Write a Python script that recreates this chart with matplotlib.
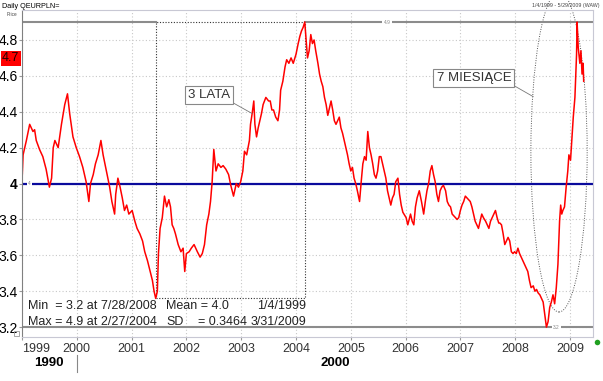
import matplotlib
matplotlib.use('Agg')
import matplotlib.pyplot as plt
from matplotlib.patches import Ellipse, Rectangle
from matplotlib.lines import Line2D
import numpy as np

# Data (decimal year, EUR/PLN close)
dates = [
    1999.00, 1999.02, 1999.08, 1999.14, 1999.20, 1999.23, 1999.26, 1999.32, 1999.38, 1999.44,
    1999.50, 1999.54, 1999.57, 1999.60, 1999.66, 1999.72, 1999.78, 1999.83, 1999.87, 1999.93,
    1999.99, 2000.05, 2000.11, 2000.17, 2000.22, 2000.25, 2000.30, 2000.34, 2000.39, 2000.44,
    2000.48, 2000.54, 2000.60, 2000.64, 2000.69, 2000.71, 2000.75, 2000.79, 2000.83, 2000.87,
    2000.91, 2000.95, 2001.01, 2001.06, 2001.10, 2001.15, 2001.20, 2001.24, 2001.29, 2001.34,
    2001.38, 2001.41, 2001.44, 2001.47, 2001.49, 2001.52, 2001.56, 2001.60, 2001.64, 2001.68,
    2001.71, 2001.74, 2001.77, 2001.80, 2001.85, 2001.90, 2001.94, 2001.97, 2002.00, 2002.05,
    2002.09, 2002.14, 2002.20, 2002.25, 2002.29, 2002.33, 2002.37, 2002.41, 2002.44, 2002.47,
    2002.50, 2002.54, 2002.58, 2002.63, 2002.67, 2002.72, 2002.77, 2002.81, 2002.86, 2002.91,
    2002.95, 2002.99, 2003.03, 2003.06, 2003.10, 2003.15, 2003.17, 2003.20, 2003.23, 2003.25,
    2003.28, 2003.31, 2003.34, 2003.37, 2003.40, 2003.45, 2003.50, 2003.53, 2003.56, 2003.59,
    2003.63, 2003.67, 2003.70, 2003.72, 2003.76, 2003.80, 2003.83, 2003.87, 2003.91, 2003.95,
    2004.00, 2004.04, 2004.07, 2004.10, 2004.13, 2004.16, 2004.19, 2004.21, 2004.24, 2004.27,
    2004.30, 2004.33, 2004.36, 2004.40, 2004.43, 2004.46, 2004.49, 2004.52, 2004.55, 2004.58,
    2004.61, 2004.64, 2004.67, 2004.70, 2004.73, 2004.76, 2004.79, 2004.82, 2004.85, 2004.88,
    2004.91, 2004.94, 2004.97, 2005.00, 2005.03, 2005.06, 2005.09, 2005.12, 2005.16, 2005.19,
    2005.22, 2005.25, 2005.28, 2005.31, 2005.34, 2005.37, 2005.40, 2005.43, 2005.46, 2005.49,
    2005.52, 2005.55, 2005.58, 2005.61, 2005.64, 2005.67, 2005.70, 2005.73, 2005.76, 2005.79,
    2005.82, 2005.86, 2005.89, 2005.92, 2005.95, 2006.01, 2006.04, 2006.09, 2006.12, 2006.15,
    2006.18, 2006.21, 2006.25, 2006.29, 2006.33, 2006.36, 2006.39, 2006.42, 2006.45, 2006.48,
    2006.51, 2006.54, 2006.57, 2006.60, 2006.63, 2006.66, 2006.69, 2006.73, 2006.76, 2006.79,
    2006.82, 2006.85, 2006.88, 2006.91, 2006.94, 2006.97, 2007.00, 2007.03, 2007.06, 2007.09,
    2007.12, 2007.15, 2007.18, 2007.21, 2007.24, 2007.27, 2007.30, 2007.33, 2007.36, 2007.39,
    2007.42, 2007.46, 2007.49, 2007.52, 2007.55, 2007.58, 2007.61, 2007.64, 2007.67, 2007.70,
    2007.72, 2007.75, 2007.78, 2007.81, 2007.84, 2007.87, 2007.90, 2007.93, 2007.96, 2007.99,
    2008.02, 2008.05, 2008.08, 2008.11, 2008.14, 2008.17, 2008.20, 2008.23, 2008.26, 2008.29,
    2008.33, 2008.36, 2008.39, 2008.42, 2008.45, 2008.48, 2008.51, 2008.54, 2008.57, 2008.60,
    2008.63, 2008.66, 2008.69, 2008.72, 2008.75, 2008.78, 2008.81, 2008.83, 2008.85, 2008.87,
    2008.90, 2008.93, 2008.96, 2008.98, 2009.01, 2009.04, 2009.06, 2009.09, 2009.12, 2009.13,
    2009.15, 2009.18, 2009.20, 2009.22, 2009.24, 2009.25,
]
eurpln = [
    4.01, 4.16, 4.24, 4.33, 4.29, 4.30, 4.24, 4.19, 4.15, 4.08,
    3.98, 4.03, 4.20, 4.24, 4.20, 4.33, 4.44, 4.50, 4.39, 4.26,
    4.20, 4.15, 4.09, 4.01, 3.90, 4.00, 4.05, 4.11, 4.16, 4.24,
    4.16, 4.07, 3.98, 3.90, 3.83, 3.94, 4.03, 3.98, 3.92, 3.85,
    3.88, 3.83, 3.85, 3.79, 3.75, 3.72, 3.68, 3.62, 3.57, 3.51,
    3.46, 3.40, 3.36, 3.40, 3.61, 3.75, 3.81, 3.93, 3.87, 3.91,
    3.87, 3.77, 3.75, 3.72, 3.66, 3.62, 3.64, 3.51, 3.61, 3.62,
    3.64, 3.66, 3.62, 3.59, 3.61, 3.66, 3.77, 3.83, 3.90, 4.01,
    4.19, 4.07, 4.11, 4.09, 4.10, 4.08, 4.05, 3.99, 3.93, 4.00,
    3.98, 4.01, 4.07, 4.18, 4.16, 4.24, 4.33, 4.39, 4.46, 4.33,
    4.26, 4.31, 4.35, 4.39, 4.44, 4.48, 4.46, 4.46, 4.41, 4.41,
    4.37, 4.35, 4.41, 4.52, 4.57, 4.65, 4.69, 4.67, 4.70, 4.67,
    4.72, 4.78, 4.82, 4.85, 4.87, 4.90, 4.78, 4.70, 4.74, 4.83,
    4.78, 4.80, 4.74, 4.67, 4.61, 4.57, 4.54, 4.48, 4.44, 4.38,
    4.42, 4.46, 4.41, 4.35, 4.33, 4.35, 4.37, 4.31, 4.28, 4.24,
    4.20, 4.16, 4.11, 4.07, 4.09, 4.03, 4.00, 3.96, 3.90, 4.01,
    4.11, 4.15, 4.13, 4.29, 4.20, 4.16, 4.11, 4.05, 4.03, 4.07,
    4.15, 4.15, 4.11, 4.07, 4.03, 3.96, 3.92, 3.88, 3.92, 3.94,
    4.01, 4.03, 3.94, 3.88, 3.84, 3.81, 3.77, 3.83, 3.79, 3.77,
    3.87, 3.92, 3.96, 3.90, 3.83, 3.90, 3.96, 4.00, 4.07, 4.10,
    4.05, 4.01, 3.94, 3.90, 3.96, 3.98, 3.99, 3.96, 3.90, 3.88,
    3.87, 3.83, 3.82, 3.81, 3.80, 3.81, 3.85, 3.88, 3.90, 3.93,
    3.92, 3.91, 3.90, 3.87, 3.83, 3.79, 3.77, 3.75, 3.79, 3.83,
    3.81, 3.79, 3.77, 3.75, 3.79, 3.81, 3.83, 3.85, 3.81, 3.78,
    3.78, 3.77, 3.72, 3.66, 3.68, 3.70, 3.68, 3.62, 3.61, 3.62,
    3.61, 3.64, 3.61, 3.59, 3.57, 3.55, 3.53, 3.51, 3.46, 3.42,
    3.43, 3.40, 3.41, 3.39, 3.38, 3.36, 3.34, 3.27, 3.20, 3.23,
    3.31, 3.34, 3.38, 3.33, 3.42, 3.55, 3.79, 3.88, 3.83, 3.85,
    3.87, 3.98, 4.07, 4.16, 4.13, 4.28, 4.37, 4.48, 4.72, 4.90,
    4.76, 4.67, 4.74, 4.61, 4.67, 4.57,
]

years = list(range(1999, 2010))
ytick_vals = [3.2, 3.4, 3.6, 3.8, 4.0, 4.2, 4.4, 4.6, 4.8]
ytick_labels = ['3.2', '3.4', '3.6', '3.8', '4', '4.2', '4.4', '4.6', '4.8']
decades = ['1990', '2000']
mean_level = 4.0
last_price = '4.7'
stats_left = ['Min  = 3.2 at 7/28/2008', 'Max = 4.9 at 2/27/2004']
stats_mid = ['Mean = 4.0', 'SD']
stats_sd = '= 0.3464'
stats_dates = ['1/4/1999', '3/31/2009']

W, H = 603, 381


def fx(x):
    return x / W


def fy(y):
    return 1 - y / H


def main():
    plt.rcParams['font.family'] = ['Liberation Sans', 'DejaVu Sans']

    fig = plt.figure(figsize=(6.03, 3.81), dpi=100)
    ax = fig.add_axes([fx(22), fy(337), fx(593) - fx(22), fy(10) - fy(337)])
    ax.set_xlim(1999.0, 2009.42)
    ax.set_ylim(3.145, 4.967)

    x = np.array(dates)
    y = np.array(eurpln)
    hi = y.max()
    lo = y.min()
    i_hi = int(np.argmax(y))
    early = x < 2003
    i_lo01 = int(np.argmin(np.where(early, y, 99)))
    x_lo01, y_lo01 = x[i_lo01], y[i_lo01]
    x_hi = x[i_hi]

    # grid
    ax.grid(True, color='#c8c8c8', ls=(0, (1, 2)), lw=0.8)
    ax.set_axisbelow(True)

    # max / min reference lines
    ax.plot([1999.0, x_lo01], [hi, hi], color='#8c8c8c', lw=1.5)
    ax.plot([x_hi, 2009.42], [hi, hi], color='#8c8c8c', lw=1.5)
    ax.axhline(lo, color='#8c8c8c', lw=1.5)
    ax.axhline(mean_level, color='#0a0a9c', lw=1.6)

    ax.plot(x, y, color='#ff0000', lw=1.1)

    # small value tags on the reference lines
    tag = dict(fontsize=3.5, color='#888888', ha='center', va='center',
               bbox=dict(fc='white', ec='none', pad=0.8))
    ax.text(2005.66, hi, '4.9', **tag)
    ax.text(2008.745, lo, '3.2', **tag)
    ax.text(1999.14, mean_level, '4', **tag)

    # dotted box from 2001 low to 2004 high
    ax.add_patch(Rectangle((x_lo01, y_lo01), x_hi - x_lo01, hi - y_lo01,
                           fill=False, ls=(0, (1, 1.5)), ec='#333333', lw=0.8))

    # dotted ellipse around last 7 months
    ax.add_patch(Ellipse((2008.80, 4.177), 1.027, 1.785, fill=False,
                         ls=(0, (1, 1.5)), ec='#555555', lw=0.7, clip_on=False))

    box = dict(boxstyle='square,pad=0.25', fc='white', ec='#888888', lw=0.8)
    arr = dict(arrowstyle='-', color='#777777', lw=0.6, relpos=(1, 0),
               shrinkA=0, shrinkB=0)
    ax.annotate('3 LATA', xy=(2003.20, 4.39), xytext=(2002.41, 4.493),
                ha='center', va='center', fontsize=9.5, color='#333333',
                bbox=box, arrowprops=arr)
    ax.annotate('7 MIESIĄCE', xy=(2008.33, 4.484), xytext=(2007.246, 4.588),
                ha='center', va='center', fontsize=9.5, color='#333333',
                bbox=box, arrowprops=arr)

    # axes, ticks
    ax.set_xticks(years)
    ax.set_xticklabels([str(v) for v in years])
    ax.get_xticklabels()[0].set_ha('left')
    ax.tick_params(axis='x', length=2.5, color='#999999', labelsize=9,
                   labelcolor='#333333', pad=1.5)
    ax.set_yticks(ytick_vals)
    ax.set_yticklabels(ytick_labels)
    ax.tick_params(axis='y', length=2.5, color='#999999', labelsize=10, pad=0.5)
    for lbl in ax.get_yticklabels():
        if lbl.get_text() == '4':
            lbl.set_fontweight('bold')
    ax.spines['left'].set_color('#808080')
    for s in ['top', 'bottom', 'right']:
        ax.spines[s].set_color('#c8c8d4')
        ax.spines[s].set_linewidth(0.8)

    # last price tag
    fig.text(fx(19.5), fy(58), last_price, ha='right', va='center', fontsize=9,
             color='#200000', bbox=dict(boxstyle='square,pad=0.12', fc='#ff0000', ec='none'))

    # header texts
    fig.text(fx(2), fy(6), 'Daily QEURPLN=', fontsize=5.2, va='center')
    fig.text(fx(7), fy(14), 'Price', fontsize=3.3, va='center', color='#444444')
    fig.text(fx(600), fy(6), '1/4/1999 - 5/29/2009 (WAW)', fontsize=3.8,
             ha='right', va='center', color='#444444')

    # statistics block
    st = dict(fontsize=9, va='center', color='#222222')
    for i, yy in enumerate([306, 322]):
        fig.text(fx(28), fy(yy), stats_left[i], **st)
        fig.text(fx(166), fy(yy), stats_mid[i], **st)
        fig.text(fx(306), fy(yy), stats_dates[i], ha='right', **st)
    fig.text(fx(198), fy(322), stats_sd, **st)

    # decade row
    fig.text(fx(49), fy(363), decades[0], fontsize=9.5, fontweight='bold',
             ha='center', va='center')
    fig.text(fx(335), fy(363), decades[1], fontsize=9.5, fontweight='bold',
             ha='center', va='center')
    fig.add_artist(Line2D([fx(77), fx(77)], [fy(355), fy(372)], color='#888888', lw=0.8))

    # little widgets
    fig.add_artist(Line2D([fx(596.5)], [fy(342)], marker='o', ms=4,
                          color='#20a020', mec='none'))
    fig.add_artist(Rectangle((fx(14), fy(336)), 5 / W, 5 / H, fill=False,
                             ec='#999999', lw=0.6))

    fig.savefig('out.png', dpi=100)


if __name__ == '__main__': main()
